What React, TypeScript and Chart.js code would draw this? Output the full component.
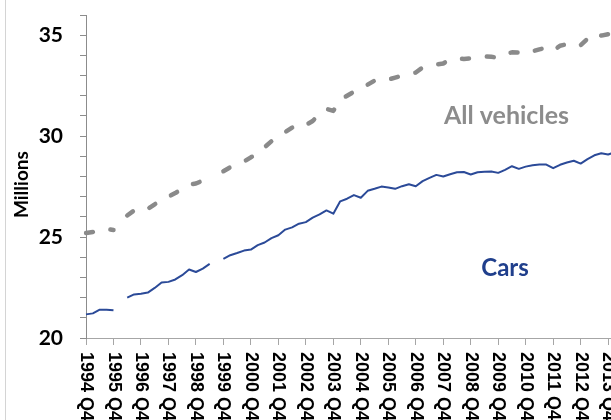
import React, { useEffect, useRef } from 'react';
import { Chart, registerables } from 'chart.js';

Chart.register(...registerables);

// Quarterly categories, 1994 Q4 .. 2014 Q1
const startYear = 1994;
const quarterLabels: string[] = [];
for (let i = 0; i < 78; i++) {
  const q = (3 + i) % 4 + 1;
  const y = startYear + Math.floor((3 + i) / 4);
  quarterLabels.push(`${y} Q${q}`);
}

// Ticks shown on the x axis (every Q4)
const xTickLabels = [
  '1994 Q4', '1995 Q4', '1996 Q4', '1997 Q4', '1998 Q4', '1999 Q4', '2000 Q4',
  '2001 Q4', '2002 Q4', '2003 Q4', '2004 Q4', '2005 Q4', '2006 Q4', '2007 Q4',
  '2008 Q4', '2009 Q4', '2010 Q4', '2011 Q4', '2012 Q4', '2013 Q4',
];

// Millions
const allVehicles: (number | null)[] = [
  25.20, 25.25, 25.38, 25.40, 25.35, null, 26.07, 26.32, 26.24, 26.40,
  26.62, 26.85, 27.00, 27.18, 27.39, 27.60, 27.65, 27.80, 28.05, null,
  28.26, 28.46, 28.60, 28.74, 28.95, 29.12, 29.45, 29.75, 29.97, 30.20,
  30.42, 30.62, 30.55, 30.75, 31.10, 31.35, 31.25, 31.80, 32.00, 32.20,
  32.33, 32.55, 32.75, 32.85, 32.80, 32.90, 33.00, 33.05, 33.15, 33.40,
  33.50, 33.55, 33.60, 33.80, 33.85, 33.82, 33.85, 33.90, 33.95, 33.93,
  33.88, 34.07, 34.15, 34.14, 34.07, 34.20, 34.30, 34.38, 34.22, 34.48,
  34.55, 34.63, 34.50, 34.82, 35.10, 34.98, 35.05, 35.10,
];

const cars: (number | null)[] = [
  21.17, 21.22, 21.40, 21.40, 21.37, null, 22.00, 22.16, 22.19, 22.25,
  22.48, 22.75, 22.78, 22.90, 23.11, 23.39, 23.27, 23.44, 23.67, null,
  23.92, 24.10, 24.21, 24.33, 24.38, 24.60, 24.73, 24.95, 25.09, 25.37,
  25.48, 25.66, 25.74, 25.96, 26.12, 26.32, 26.16, 26.77, 26.90, 27.08,
  26.95, 27.29, 27.39, 27.50, 27.46, 27.39, 27.52, 27.62, 27.52, 27.77,
  27.93, 28.08, 28.00, 28.11, 28.21, 28.22, 28.10, 28.21, 28.24, 28.25,
  28.18, 28.33, 28.51, 28.38, 28.49, 28.56, 28.59, 28.59, 28.41, 28.58,
  28.69, 28.78, 28.64, 28.86, 29.05, 29.15, 29.09, 29.20,
];

const GRAY_LINE = '#8a8a8a';
const BLUE_LINE = '#2b4a98';
const AXIS_COLOR = '#a6a6a6';

const customPlugin = {
  id: 'customText',
  afterDraw(chart: any) {
    const ctx = chart.ctx as CanvasRenderingContext2D;
    const xs = chart.scales.x;
    const ys = chart.scales.y;
    ctx.save();
    // frame line on left
    ctx.strokeStyle = '#d4d4d4';
    ctx.lineWidth = 1;
    ctx.beginPath();
    ctx.moveTo(5.5, 0);
    ctx.lineTo(5.5, chart.height);
    ctx.stroke();

    // rotated x labels (reading top to bottom)
    ctx.fillStyle = '#000';
    ctx.font = 'bold 18px "Liberation Sans", Arial, sans-serif';
    ctx.textAlign = 'left';
    ctx.textBaseline = 'middle';
    xTickLabels.forEach((lab) => {
      const idx = quarterLabels.indexOf(lab);
      const x = xs.getPixelForValue(idx);
      ctx.save();
      ctx.translate(x, xs.top + 14);
      ctx.rotate(Math.PI / 2);
      ctx.fillText(lab, 0, 0);
      ctx.restore();
    });

    // y axis title
    ctx.save();
    ctx.font = 'bold 19px Lato, "Open Sans", sans-serif';
    ctx.textAlign = 'center';
    ctx.textBaseline = 'middle';
    ctx.translate(22, ys.getPixelForValue(27.6));
    ctx.rotate(-Math.PI / 2);
    ctx.fillText('Millions', 0, 0);
    ctx.restore();

    // series annotations
    ctx.font = 'bold 25px Lato, "Open Sans", sans-serif';
    ctx.textAlign = 'center';
    ctx.textBaseline = 'middle';
    ctx.fillStyle = '#8c8c8c';
    ctx.fillText('All vehicles', xs.getPixelForValue(61.2), ys.getPixelForValue(31.0));
    ctx.font = 'bold 24px Lato, "Open Sans", sans-serif';
    ctx.fillStyle = '#203f8c';
    ctx.fillText('Cars', xs.getPixelForValue(61), ys.getPixelForValue(23.45));
    ctx.restore();
  },
};

export default function App() {
  const ref = useRef<HTMLCanvasElement | null>(null);
  useEffect(() => {
    if (!ref.current) return;
    const chart = new Chart(ref.current, {
      type: 'line',
      data: {
        labels: quarterLabels,
        datasets: [
          {
            label: 'All vehicles',
            data: allVehicles,
            borderColor: GRAY_LINE,
            borderWidth: 4.5,
            borderDash: [7, 18],
            borderCapStyle: 'round',
            borderJoinStyle: 'round',
            pointRadius: 0,
            tension: 0,
            spanGaps: false,
          },
          {
            label: 'Cars',
            data: cars,
            borderColor: BLUE_LINE,
            borderWidth: 2,
            borderJoinStyle: 'round',
            pointRadius: 0,
            tension: 0,
            spanGaps: false,
          },
        ],
      },
      options: {
        animation: false,
        responsive: false,
        maintainAspectRatio: false,
        layout: { padding: { left: 0, top: 15, right: 5, bottom: 0 } },
        plugins: { legend: { display: false }, tooltip: { enabled: false } },
        scales: {
          x: {
            type: 'category',
            offset: false,
            afterFit: (s: any) => { s.height = 82; s.paddingLeft = 0; s.paddingRight = 0; },
            grid: {
              drawOnChartArea: false,
              drawTicks: true,
              tickLength: 7,
              tickColor: (c: any) => (c.index % 4 === 0 ? AXIS_COLOR : 'rgba(0,0,0,0)'),
            },
            border: { display: true, color: AXIS_COLOR, width: 1 },
            ticks: { display: false, autoSkip: false, maxRotation: 0 },
          },
          y: {
            min: 20,
            max: 36,
            afterFit: (s: any) => { s.width = 86; s.paddingTop = 0; s.paddingBottom = 0; },
            grid: { drawOnChartArea: false, drawTicks: true, tickLength: 6, tickColor: '#8c8c8c' },
            border: { display: true, color: '#8c8c8c', width: 1 },
            ticks: {
              stepSize: 1,
              autoSkip: false,
              padding: 17,
              color: '#000',
              font: { family: 'Lato, "Open Sans", sans-serif', size: 21, weight: 'bold' },
              callback: (v: any) => (Number(v) % 5 === 0 ? String(v) : ''),
            },
          },
        },
      },
      plugins: [customPlugin],
    });
    return () => chart.destroy();
  }, []);
  return (
    <div style={{ position: 'fixed', left: 0, top: 0, width: 611, height: 420, overflow: 'hidden', background: '#fff' }}>
      <canvas ref={ref} width={620} height={420} style={{ display: 'block' }} />
    </div>
  );
}
